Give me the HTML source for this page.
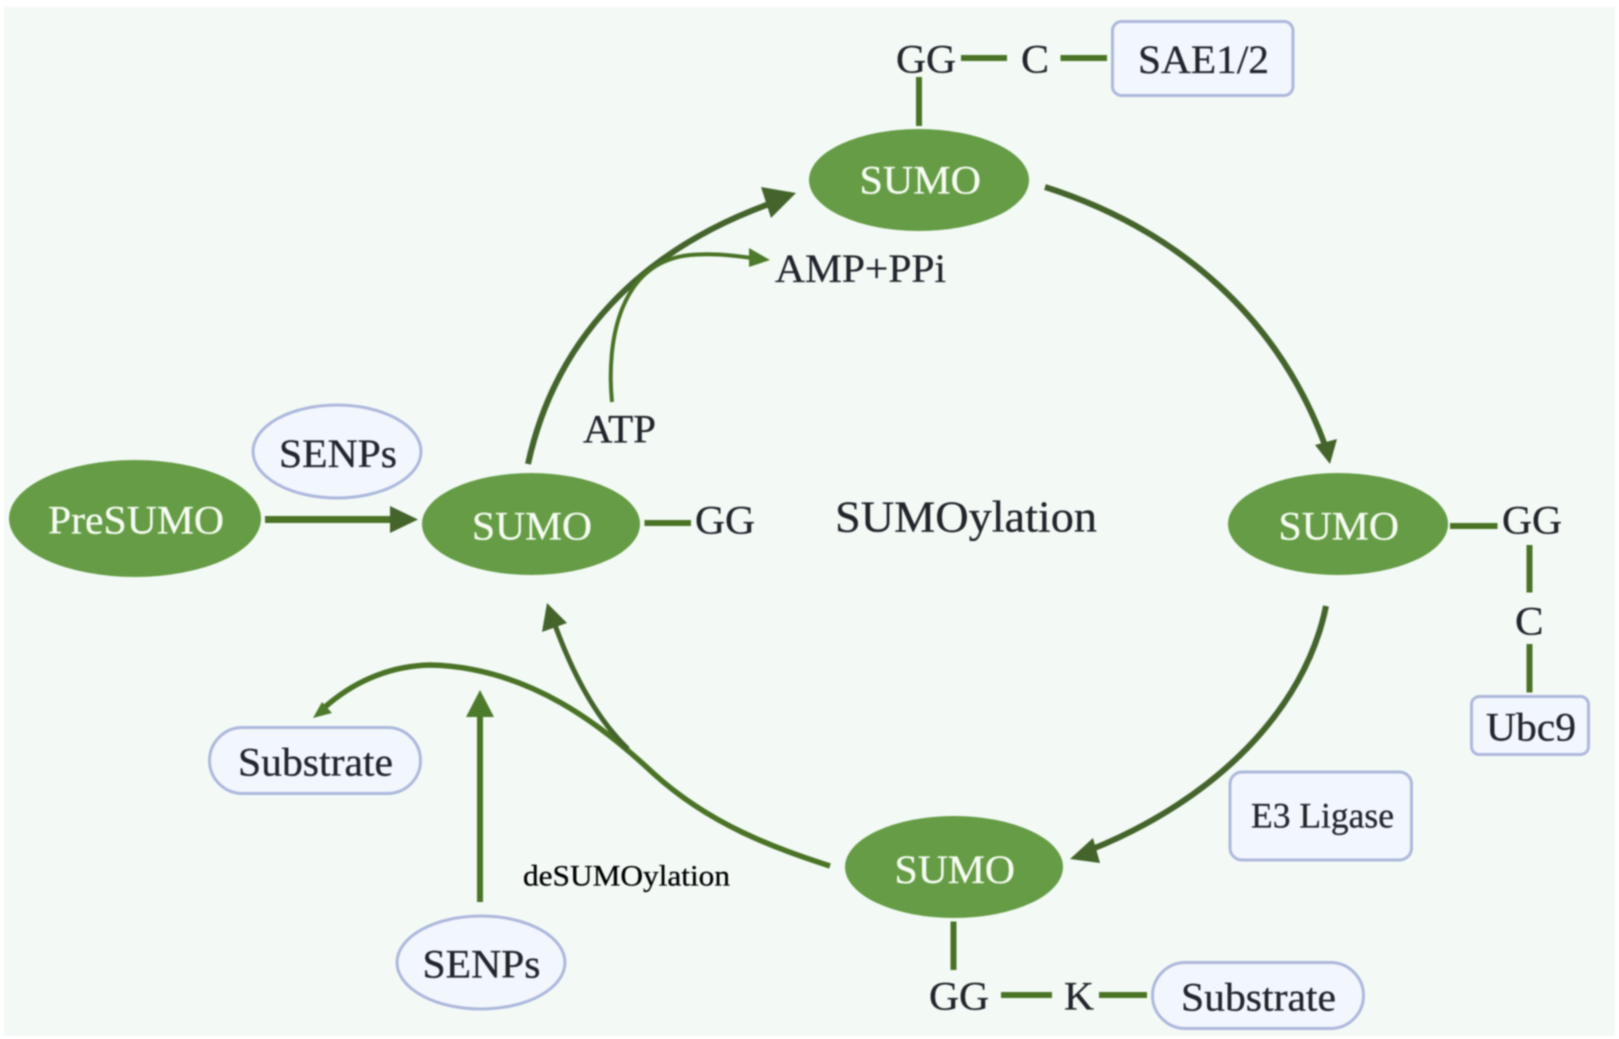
<!DOCTYPE html>
<html lang="en">
<head>
<meta charset="utf-8">
<title>SUMOylation cycle</title>
<style>
html,body{margin:0;padding:0;background:#fff;width:1619px;height:1039px;overflow:hidden}
svg{display:block;filter:blur(0.9px)}
text{font-family:"Liberation Serif",serif;fill:#22252b;stroke:#22252b;stroke-width:0.3}
.w{fill:#f6fcf2;stroke:#f6fcf2}
.k{fill:#000;stroke:#000}
.e{fill:#659c45}
.b{fill:#f2f6fd;stroke:#adb8dc;stroke-width:3}
.l{stroke:#4a7326;stroke-width:6;fill:none}
.a{stroke:#44642c;stroke-width:6;fill:none}
.h{fill:#44642c}
.g{fill:#4e7a2b}
</style>
</head>
<body>
<svg width="1619" height="1039" viewBox="0 0 1619 1039" xmlns="http://www.w3.org/2000/svg">
<rect x="4" y="7" width="1611" height="1029" fill="#f3faf6"/>

<!-- nodes -->
<ellipse class="e" cx="135" cy="518.5" rx="126" ry="58.5"/>
<ellipse class="e" cx="531" cy="524" rx="109" ry="51"/>
<ellipse class="e" cx="919" cy="180" rx="110" ry="51"/>
<ellipse class="e" cx="1338" cy="524" rx="110" ry="51"/>
<ellipse class="e" cx="954" cy="867" rx="109" ry="51"/>
<ellipse class="b" cx="337" cy="451.5" rx="84" ry="46.5"/>
<ellipse class="b" cx="481" cy="962.5" rx="84" ry="46.5"/>
<rect class="b" x="209.500" y="727.500" width="211" height="66" rx="33"/>
<rect class="b" x="1152.500" y="962.500" width="211" height="66" rx="33"/>
<rect class="b" x="1112.500" y="21.500" width="180.500" height="74" rx="9"/>
<rect class="b" x="1471.500" y="696.500" width="117" height="58" rx="8"/>
<rect class="b" x="1230" y="772" width="181.500" height="88" rx="12"/>

<!-- connectors -->
<path class="l" d="M961 58H1007M1060.500 58H1107M919 77V126"/>
<path class="l" d="M644.500 523H691"/>
<path class="l" d="M1450 526H1497.500M1529.500 545V592.500M1529.500 644V692.500"/>
<path class="l" d="M953.500 921.500V970M1001 995H1052M1099 995H1147"/>

<!-- arrows -->
<path class="l" d="M265 519.500H395" style="stroke-width:7"/>
<polygon class="h" points="390,506 418,519.500 390,533"/>

<path class="a" d="M528 464C555 340 640 250 772 203"/>
<polygon class="h" points="761,187 796,193 771,218"/>

<path class="l" d="M612 402C606 340 620 262 690 255C710 253 730 255 752 258" style="stroke-width:4"/>
<polygon class="g" points="749,248 770,260 749,267"/>

<path class="a" d="M1045 187C1180 230 1280 320 1326 448"/>
<polygon class="h" points="1315,445 1330,464 1337,439"/>

<path class="a" d="M1326 606C1305 710 1215 800 1090 850"/>
<polygon class="h" points="1093,838 1070,859 1100,863"/>

<path class="a" d="M830 866C775 848 710 825 653 773C605 728 530 667 430 665C385 666 350 685 325 707" style="stroke:#4a7326;stroke-width:5.5"/>
<polygon class="g" points="322,702 313,718 332,713"/>

<path class="a" d="M628 749C600 722 575 680 555 625" style="stroke-width:5"/>
<polygon class="h" points="547,603 542,632 567,623"/>

<path class="l" d="M480 902V715"/>
<polygon class="g" points="480,690 466,717 494,717"/>

<!-- labels -->
<text class="w" x="48" y="533.500" font-size="40" textLength="176" lengthAdjust="spacingAndGlyphs">PreSUMO</text>
<text class="w" x="472" y="539.500" font-size="40" textLength="120" lengthAdjust="spacingAndGlyphs">SUMO</text>
<text class="w" x="859.500" y="193.500" font-size="40" textLength="121.500" lengthAdjust="spacingAndGlyphs">SUMO</text>
<text class="w" x="1278.500" y="539.500" font-size="40" textLength="120.500" lengthAdjust="spacingAndGlyphs">SUMO</text>
<text class="w" x="894.500" y="883" font-size="40" textLength="120.500" lengthAdjust="spacingAndGlyphs">SUMO</text>

<text x="896" y="72.500" font-size="40" textLength="60" lengthAdjust="spacingAndGlyphs">GG</text>
<text x="1021" y="72.500" font-size="40" textLength="28" lengthAdjust="spacingAndGlyphs">C</text>
<text x="1138" y="73" font-size="40" textLength="131" lengthAdjust="spacingAndGlyphs">SAE1/2</text>
<text x="775" y="282" font-size="40" textLength="171" lengthAdjust="spacingAndGlyphs">AMP+PPi</text>
<text x="583" y="442.500" font-size="40" textLength="73" lengthAdjust="spacingAndGlyphs">ATP</text>
<text x="279" y="467" font-size="40" textLength="118" lengthAdjust="spacingAndGlyphs">SENPs</text>
<text x="695" y="533.500" font-size="40" textLength="60" lengthAdjust="spacingAndGlyphs">GG</text>
<text x="835" y="531.500" font-size="44" textLength="262" lengthAdjust="spacingAndGlyphs">SUMOylation</text>
<text x="1502" y="533.500" font-size="40" textLength="60" lengthAdjust="spacingAndGlyphs">GG</text>
<text x="1515" y="634.500" font-size="40" textLength="28.500" lengthAdjust="spacingAndGlyphs">C</text>
<text x="1486" y="740.500" font-size="40" textLength="90" lengthAdjust="spacingAndGlyphs">Ubc9</text>
<text x="1251" y="827.500" font-size="36" textLength="143" lengthAdjust="spacingAndGlyphs">E3 Ligase</text>
<text x="929" y="1009.500" font-size="40" textLength="60" lengthAdjust="spacingAndGlyphs">GG</text>
<text x="1064" y="1009.500" font-size="40" textLength="30" lengthAdjust="spacingAndGlyphs">K</text>
<text x="1181" y="1010.500" font-size="40" textLength="155" lengthAdjust="spacingAndGlyphs">Substrate</text>
<text x="238" y="775.500" font-size="40" textLength="155" lengthAdjust="spacingAndGlyphs">Substrate</text>
<text x="422.500" y="977.500" font-size="40" textLength="118" lengthAdjust="spacingAndGlyphs">SENPs</text>
<text class="k" x="523" y="885.500" font-size="30" textLength="207" lengthAdjust="spacingAndGlyphs">deSUMOylation</text>
</svg>
</body>
</html>
